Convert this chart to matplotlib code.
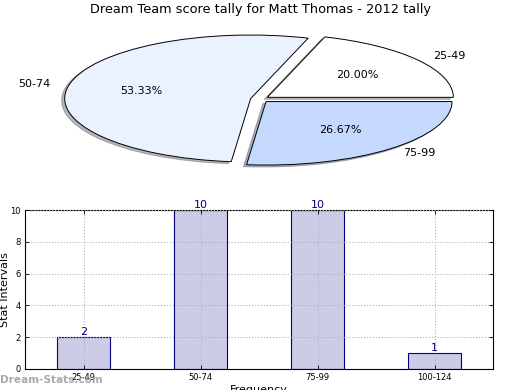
import matplotlib
matplotlib.use("Agg")
import matplotlib.pyplot as plt
import numpy as np

# pie data
pie_labels = ["25-49", "50-74", "75-99"]
pie_values = [20.00, 53.33, 26.67]
pie_colors = ["#ffffff", "#ebf2ff", "#c5d9ff"]

# bar data
bar_labels = ["25-49", "50-74", "75-99", "100-124"]
bar_values = [2, 10, 10, 1]

fig = plt.figure(figsize=(5.2, 3.9), dpi=100)

# --- pie (squashed ellipse) ---
rx, ry = 186.0, 63.5
cx, cy = 259.8, 99.2
lim = 1.3
axp = fig.add_axes([(cx - lim * rx) / 520, 1 - (cy + lim * ry) / 390,
                    2 * lim * rx / 520, 2 * lim * ry / 390])
wedges, texts, autotexts = axp.pie(
    pie_values, labels=pie_labels, colors=pie_colors, autopct="%.2f%%",
    explode=[0.05] * 3, shadow=dict(ox=-0.012, oy=-0.022, shade=0.55),
    startangle=0,
    wedgeprops=dict(edgecolor="black", linewidth=0.7),
    textprops=dict(fontsize=8))
axp.set_aspect("auto")
axp.set_xlim(-lim, lim)
axp.set_ylim(-lim, lim)
axp.axis("off")
fig.text(0.5, 0.975, "Dream Team score tally for Matt Thomas - 2012 tally",
         ha="center", va="center", fontsize=9.3)

# --- bar chart ---
ax = fig.add_axes([25 / 520, 21 / 390, 468 / 520, 159 / 390])
x = np.arange(len(bar_labels))
rects = ax.bar(x, bar_values, width=0.45, color="#ccccE6",
               edgecolor="#000080", linewidth=0.8, zorder=1)
for xi, v in zip(x, bar_values):
    ax.text(xi, v, str(v), ha="center", va="bottom", fontsize=8,
            color="#000080")
ax.set_xlim(-0.5, 3.5)
ax.set_ylim(0, 10)
ax.set_yticks([0, 2, 4, 6, 8, 10])
ax.set_xticks(x)
ax.set_xticklabels(bar_labels)
ax.tick_params(labelsize=6, direction="in", top=True, right=True,
               length=3, width=0.6, pad=3)
ax.grid(True, linestyle=":", color="#b0b0b0", linewidth=0.8, zorder=2)
ax.set_axisbelow(False)
for s in ax.spines.values():
    s.set_linewidth(0.8)
ax.set_ylabel("Stat Intervals", fontsize=8)
ax.yaxis.set_label_coords(-0.033, 0.5)
ax.set_xlabel("Frequency", fontsize=8)
ax.xaxis.set_label_coords(0.5, -0.098)

fig.text(0.0, 0.025, "Dream-Stats.com", fontsize=7.6, fontweight="bold",
         color="#a0a0a0", alpha=0.9, ha="left", va="center")

fig.savefig("out.png", dpi=100)
